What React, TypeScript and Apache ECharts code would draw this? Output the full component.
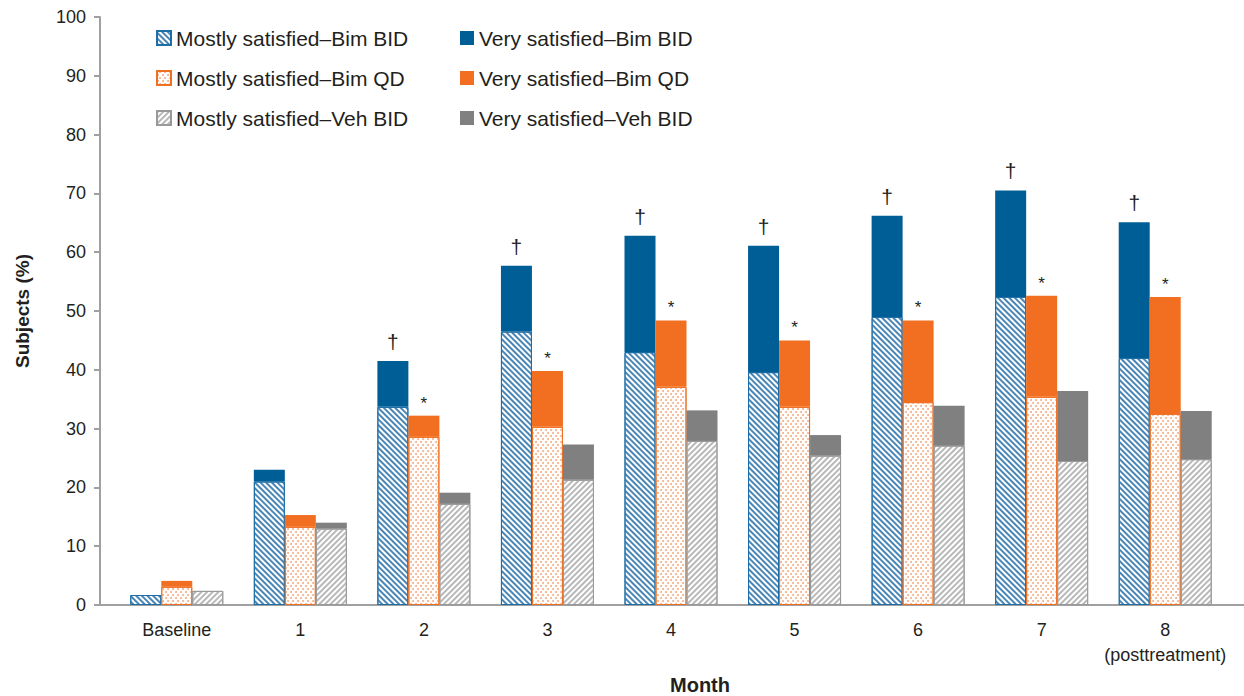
import React, { useEffect, useRef } from 'react';
import * as echarts from 'echarts';

const categories = ['Baseline', '1', '2', '3', '4', '5', '6', '7', '8'];

const mostlyBimBID = [1.7, 21.0, 33.7, 46.5, 43.0, 39.6, 49.0, 52.4, 42.0];
const veryBimBID = [0, 2.0, 7.8, 11.2, 19.8, 21.5, 17.2, 18.1, 23.1];
const mostlyBimQD = [3.1, 13.3, 28.6, 30.3, 37.1, 33.7, 34.5, 35.4, 32.5];
const veryBimQD = [1.0, 2.0, 3.6, 9.5, 11.3, 11.3, 13.9, 17.2, 19.9];
const mostlyVehBID = [2.4, 13.0, 17.2, 21.3, 27.9, 25.4, 27.1, 24.5, 24.8];
const veryVehBID = [0, 1.0, 1.9, 6.0, 5.2, 3.5, 6.8, 11.9, 8.2];

const marksBimBID = ['', '', '†', '†', '†', '†', '†', '†', '†'];
const marksBimQD = ['', '', '*', '*', '*', '*', '*', '*', '*'];

const yTicks = { min: 0, max: 100, interval: 10 };

const FONT = 'Liberation Sans, Arial, sans-serif';
const TEXT = '#231f20';

export default function App() {
  const ref = useRef<HTMLDivElement>(null);
  useEffect(() => {
    document.body.style.margin = '0';
    const chart = echarts.init(ref.current!, null, { renderer: 'svg' });

    const hatched = (name: string, data: number[], stack: string, border: string, decal: any) => ({
      name,
      type: 'bar',
      stack,
      data,
      barWidth: 31,
      barGap: '0%',
      itemStyle: { color: '#ffffff', borderColor: border, borderWidth: 1, decal },
    });
    const solid = (name: string, data: number[], stack: string, color: string, marks: string[], fs: number, dist: number) => ({
      name,
      type: 'bar',
      stack,
      barWidth: 31,
      barGap: '0%',
      itemStyle: { color },
      data: data.map((v, i) => ({
        value: v,
        label: { show: marks[i] !== '', formatter: marks[i] },
      })),
      label: { show: false, position: 'top', fontSize: fs, color: TEXT, fontFamily: FONT, distance: dist },
    });

    const blueDecal = { symbol: 'rect', symbolSize: 1, color: '#4a86b5', dashArrayX: [1, 0], dashArrayY: [1.2, 1.8], rotation: Math.PI / 4 };
    const grayDecal = { symbol: 'rect', symbolSize: 1, color: '#b8b8b8', dashArrayX: [1, 0], dashArrayY: [1.2, 1.8], rotation: -Math.PI / 4 };
    const dotDecal = { symbol: 'circle', symbolSize: 1, color: '#f4b08a', dashArrayX: [[1.6, 2.4], [0, 2, 1.6, 0.4]], dashArrayY: [1.6, 0.8], rotation: 0 };

    const legendBase = {
      orient: 'vertical',
      top: 22,
      itemWidth: 14,
      itemHeight: 14,
      itemGap: 18,
      icon: 'rect',
      selectedMode: false,
      textStyle: { fontSize: 21, color: TEXT, fontFamily: FONT, lineHeight: 22 },
    };

    chart.setOption({
      animation: false,
      textStyle: { fontFamily: FONT },
      grid: { left: 115, width: 1112, top: 17, height: 588 },
      legend: [
        { ...legendBase, left: 151, data: ['Mostly satisfied–Bim BID', 'Mostly satisfied–Bim QD', 'Mostly satisfied–Veh BID'] },
        { ...legendBase, left: 455, data: ['Very satisfied–Bim BID', 'Very satisfied–Bim QD', 'Very satisfied–Veh BID'] },
      ],
      xAxis: {
        type: 'category',
        data: categories,
        axisLine: { show: false },
        axisTick: { show: false },
        axisLabel: {
          interval: 0,
          fontSize: 18,
          color: TEXT,
          fontFamily: FONT,
          margin: 12,
          lineHeight: 25,
          formatter: (v: string) => (v === '8' ? '8\n(posttreatment)' : v),
        },
      },
      yAxis: {
        type: 'value',
        ...yTicks,
        offset: 15,
        name: 'Subjects (%)',
        nameLocation: 'middle',
        nameGap: 68,
        nameTextStyle: { fontSize: 19, fontWeight: 'bold', color: TEXT, fontFamily: FONT },
        axisLine: { show: true, lineStyle: { color: '#a0a0a0', width: 2 } },
        axisTick: { show: true, length: 6, lineStyle: { color: '#a0a0a0', width: 2 } },
        axisLabel: { fontSize: 18, color: TEXT, fontFamily: FONT, margin: 14 },
        splitLine: { show: false },
      },
      graphic: [
        { type: 'line', shape: { x1: 100, y1: 605, x2: 1244, y2: 605 }, style: { stroke: '#a0a0a0', lineWidth: 2 } },
        {
          type: 'text',
          x: 700,
          y: 685,
          style: { text: 'Month', fontSize: 20, fontWeight: 'bold', fill: TEXT, fontFamily: FONT, textAlign: 'center', textVerticalAlign: 'middle' },
        },
      ],
      series: [
        hatched('Mostly satisfied–Bim BID', mostlyBimBID, 'bid', '#1d6ea6', blueDecal),
        solid('Very satisfied–Bim BID', veryBimBID, 'bid', '#005e96', marksBimBID, 21, 9),
        hatched('Mostly satisfied–Bim QD', mostlyBimQD, 'qd', '#f07022', dotDecal),
        solid('Very satisfied–Bim QD', veryBimQD, 'qd', '#f26f21', marksBimQD, 17, 4),
        hatched('Mostly satisfied–Veh BID', mostlyVehBID, 'veh', '#999999', grayDecal),
        solid('Very satisfied–Veh BID', veryVehBID, 'veh', '#808080', ['', '', '', '', '', '', '', '', ''], 17, 4),
      ],
    });
    return () => chart.dispose();
  }, []);
  return <div ref={ref} style={{ width: 1244, height: 696 }} />;
}
